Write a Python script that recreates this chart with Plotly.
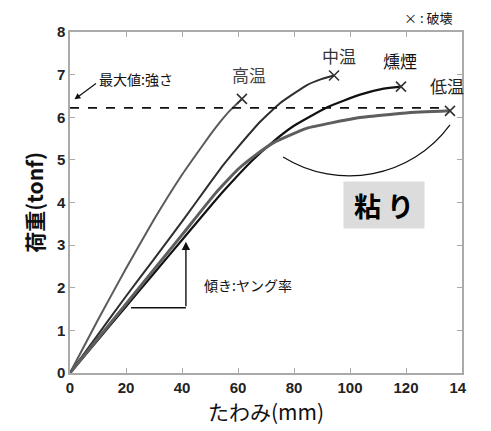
import plotly.graph_objects as go

# ---- data ----
x_high = [0, 10, 20, 30, 40, 45, 50, 54, 57, 61.4]
y_high = [0, 1.25, 2.45, 3.6, 4.65, 5.12, 5.58, 5.92, 6.15, 6.43]

x_mid = [0, 10, 20, 30, 40, 48.8, 55, 60, 68, 75, 84.5, 90, 94.3]
y_mid = [0, 0.9, 1.8, 2.67, 3.55, 4.35, 4.9, 5.3, 5.9, 6.33, 6.75, 6.9, 6.98]

x_smoke = [0, 10, 20, 30, 40, 50, 55, 65, 72.6, 80, 91.7, 103.6, 112, 118.2]
y_smoke = [0, 0.78, 1.56, 2.34, 3.12, 3.9, 4.28, 4.98, 5.43, 5.8, 6.23, 6.53, 6.67, 6.72]

x_low = [0, 10, 20, 30, 40, 52, 60, 66, 72.6, 84.5, 102.4, 120, 135.7]
y_low = [0, 0.81, 1.62, 2.43, 3.24, 4.22, 4.78, 5.1, 5.4, 5.74, 5.98, 6.1, 6.15]

strength = 6.22
x_ticks = [0, 20, 40, 60, 80, 100, 120, 140]
x_ticktext = ["0", "20", "40", "60", "80", "100", "120", "14\u2007"]
y_ticks = [0, 1, 2, 3, 4, 5, 6, 7, 8]

series = [
    ("高温", x_high, y_high, "#5a5a5a", 2.0),
    ("中温", x_mid, y_mid, "#2e2e2e", 2.0),
    ("燻煙", x_smoke, y_smoke, "#111111", 2.2),
    ("低温", x_low, y_low, "#5e5e5e", 3.0),
]

CJK = "Noto Sans CJK JP"
fig = go.Figure()

for name, xs, ys, col, w in series:
    fig.add_trace(go.Scatter(x=xs, y=ys, mode="lines",
                             line=dict(color=col, width=w, shape="spline", smoothing=0.4),
                             name=name, showlegend=False, hoverinfo="skip"))
    fig.add_trace(go.Scatter(x=[xs[-1]], y=[ys[-1]], mode="markers",
                             marker=dict(symbol="x-thin", size=10, line=dict(color="#333333", width=1.6)),
                             showlegend=False, hoverinfo="skip"))

# strength line
fig.add_shape(type="line", x0=0, x1=135, y0=strength, y1=strength,
              line=dict(color="#111111", width=1.6, dash="dash"))

# arc for 粘り
fig.add_shape(type="path", path="M 76.1,5.07 C 95.9,4.26 121.9,4.58 135.7,5.82",
              line=dict(color="#111111", width=1.2))

# young modulus bracket
fig.add_shape(type="line", x0=21.8, x1=41.4, y0=1.53, y1=1.53, line=dict(color="#111111", width=1.4))
fig.add_annotation(x=41.4, y=3.08, ax=41.4, ay=1.53, xref="x", yref="y", axref="x", ayref="y",
                   text="", showarrow=True, arrowhead=2, arrowsize=1.2, arrowwidth=1.4, arrowcolor="#111111")

# label texts
labels = [
    ("高温", 64.0, 7.0, "#444444"),
    ("中温", 96.0, 7.45, "#333333"),
    ("燻煙", 118.0, 7.33, "#111111"),
]
for t, lx, ly, c in labels:
    fig.add_annotation(x=lx, y=ly, text=t, showarrow=False, font=dict(family=CJK, size=17, color=c))
# label just outside the x range -> paper x
fig.add_annotation(x=141.5 / 140, xref="paper", y=6.75, yref="y", text="低温", showarrow=False,
                   font=dict(family=CJK, size=17, color="#222222"))

fig.add_annotation(x=9.5, y=6.9, xanchor="left", text="最大値:強さ", showarrow=False,
                   font=dict(family=CJK, size=14, color="#111111"))
fig.add_annotation(x=1.6, y=6.42, ax=9.8, ay=6.82, xref="x", yref="y", axref="x", ayref="y",
                   text="", showarrow=True, arrowhead=2, arrowsize=1, arrowwidth=1.2, arrowcolor="#111111")

fig.add_annotation(x=47.0, y=2.06, xanchor="left", text="傾き:ヤング率", showarrow=False,
                   font=dict(family=CJK, size=14, color="#111111"))

fig.add_annotation(x=118.5, y=1.043, yref="paper", xanchor="left", yanchor="middle",
                   text="× : 破壊", showarrow=False,
                   font=dict(family=CJK, size=13, color="#111111"))

fig.add_annotation(x=112.0, y=3.93, text="<b>粘 り</b>", showarrow=False,
                   font=dict(family=CJK, size=27, color="#000000"),
                   bgcolor="#dcdcdc", borderpad=4, width=72, height=38)

axis_common = dict(showline=True, linecolor="#aaaaaa", linewidth=1.5, mirror="ticks",
                   ticks="inside", ticklen=5, tickcolor="#aaaaaa", tickwidth=1.2,
                   showgrid=False, zeroline=False, automargin=False,
                   tickfont=dict(family="Liberation Sans", size=15, color="#222222", weight="bold"))

fig.update_xaxes(range=[0, 140], tickvals=x_ticks, ticktext=x_ticktext,
                 title=dict(text="たわみ(mm)", font=dict(family=CJK, size=21, color="#111111"), standoff=4),
                 **axis_common)
fig.update_yaxes(range=[0, 8], tickvals=y_ticks,
                 title=dict(text="<b>荷重(tonf)</b>", font=dict(family=CJK, size=21, color="#111111"), standoff=8),
                 **axis_common)

# page body has an 8px margin, so the figure is sized to fit the remaining window
fig.update_layout(width=483, height=423, margin=dict(l=62, r=29, t=24, b=58),
                  paper_bgcolor="white", plot_bgcolor="white", showlegend=False)

fig.write_html("out.html")
